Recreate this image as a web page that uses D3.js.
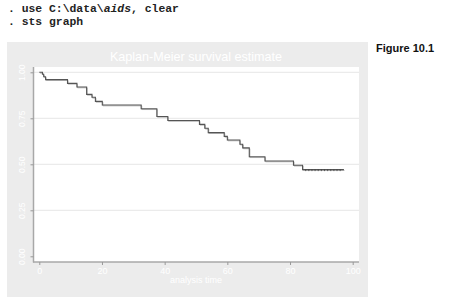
<!DOCTYPE html>
<html><head><meta charset="utf-8">
<script src="https://cdn.jsdelivr.net/npm/d3@7"></script>
<style>body{margin:0;background:#fff}svg{display:block}</style>
</head><body>
<svg id="c" width="455" height="307"></svg>
<script>
const commandLines = [[". use C:\\data\\", "aids", ", clear"], [". sts graph"]];
const figureLabel = "Figure 10.1";
const chartTitle = "Kaplan-Meier survival estimate";
const xTitle = "analysis time";
const xTicks = [0, 20, 40, 60, 80, 100];
const yTicks = [0, 0.25, 0.5, 0.75, 1];
const yTickLabels = ["0.00", "0.25", "0.50", "0.75", "1.00"];
// step times and survival after each step
const stepTimes = [0, 1.0, 1.4, 2.0, 9.0, 12.0, 15.1, 16.8, 17.9, 20.1, 32.5, 37.5, 41.0, 51.1, 52.8, 53.9, 59.0, 60.0, 64.0, 64.9, 67.0, 72.0, 81.1, 84.0];
const survival = [1.0, 0.989, 0.976, 0.960, 0.940, 0.920, 0.880, 0.864, 0.842, 0.822, 0.802, 0.760, 0.738, 0.717, 0.696, 0.672, 0.652, 0.632, 0.609, 0.589, 0.541, 0.518, 0.495, 0.471];
const endTime = 97.2;
const censorTimes = [85, 86, 87, 88, 89, 90, 91, 92, 93, 94, 95, 96];

const svg = d3.select("#c");
const mono = "'Liberation Mono','DejaVu Sans Mono',monospace";
const sans = "'Liberation Sans',Arial,sans-serif";

// command lines
commandLines.forEach((parts, i) => {
  const t = svg.append("text").attr("x", 8).attr("y", 11.5 + i * 13)
    .attr("font-family", mono).attr("font-weight", "bold").attr("font-size", 11.4).attr("fill", "#222");
  parts.forEach((p, j) => t.append("tspan").text(p).attr("font-style", j === 1 ? "italic" : null));
});
svg.append("text").attr("x", 376).attr("y", 51.5).text(figureLabel)
  .attr("font-family", sans).attr("font-weight", "bold").attr("font-size", 11).attr("fill", "#111");

// panel
svg.append("rect").attr("x", 7).attr("y", 42).attr("width", 361).attr("height", 255).attr("fill", "#ececec");
const x = d3.scaleLinear().domain([0, 100]).range([39.3, 352.7]);
const y = d3.scaleLinear().domain([0, 1]).range([256.3, 72.3]);
svg.append("rect").attr("x", 34).attr("y", 67).attr("width", 325).attr("height", 195).attr("fill", "#fff");

// gridlines
svg.append("g").selectAll("line").data(yTicks.filter(d => d > 0)).join("line")
  .attr("x1", 34).attr("x2", 359).attr("y1", d => y(d)).attr("y2", d => y(d))
  .attr("stroke", "#e6e6e6").attr("stroke-width", 1);

// axes
const yAxis = d3.axisLeft(y).tickValues(yTicks).tickFormat((d, i) => yTickLabels[i]).tickSize(3).tickPadding(4);
const gy = svg.append("g").attr("transform", "translate(33.5,0)").call(yAxis);
gy.select(".domain").attr("d", "M0,67V262.5").attr("stroke", "#a8a8a8").attr("stroke-width", 1.5);
gy.selectAll(".tick line").attr("stroke", "#999");
gy.selectAll(".tick text").attr("transform", "rotate(-90,-8.5,0)")
  .attr("x", -8.5).attr("y", 0).attr("dy", "0").attr("text-anchor", "middle")
  .attr("font-family", sans).attr("font-size", 8.5).attr("fill", "#fff");

const xAxis = d3.axisBottom(x).tickValues(xTicks).tickSize(3).tickPadding(3);
const gx = svg.append("g").attr("transform", "translate(0,262)").call(xAxis);
gx.select(".domain").attr("d", "M33,0H359").attr("stroke", "#a8a8a8").attr("stroke-width", 1.5);
gx.selectAll(".tick line").attr("stroke", "#999");
gx.selectAll(".tick text").attr("font-family", sans).attr("font-size", 9).attr("fill", "#fff").attr("dy", "0.68em");

// titles
svg.append("text").attr("x", 196).attr("y", 60.5).attr("text-anchor", "middle").text(chartTitle)
  .attr("font-family", sans).attr("font-size", 12.6).attr("fill", "#fff");
svg.append("text").attr("x", 196).attr("y", 282.5).attr("text-anchor", "middle").text(xTitle)
  .attr("font-family", sans).attr("font-size", 9).attr("fill", "#fff");

// KM step curve
const pts = stepTimes.map((t, i) => [t, survival[i]]);
pts.push([endTime, survival[survival.length - 1]]);
const line = d3.line().x(d => x(d[0])).y(d => y(d[1])).curve(d3.curveStepAfter);
svg.append("path").datum(pts).attr("d", line).attr("transform", "translate(0.6,0.8)")
  .attr("fill", "none").attr("stroke", "#bbb").attr("stroke-width", 1);
svg.append("path").datum(pts).attr("d", line)
  .attr("fill", "none").attr("stroke", "#555").attr("stroke-width", 1.1);
// censor marks
const sLast = survival[survival.length - 1];
svg.append("g").selectAll("line").data(censorTimes).join("line")
  .attr("x1", d => x(d)).attr("x2", d => x(d)).attr("y1", y(sLast) - 0.5).attr("y2", y(sLast) + 1.5)
  .attr("stroke", "#444").attr("stroke-width", 0.8);
</script>
</body></html>
